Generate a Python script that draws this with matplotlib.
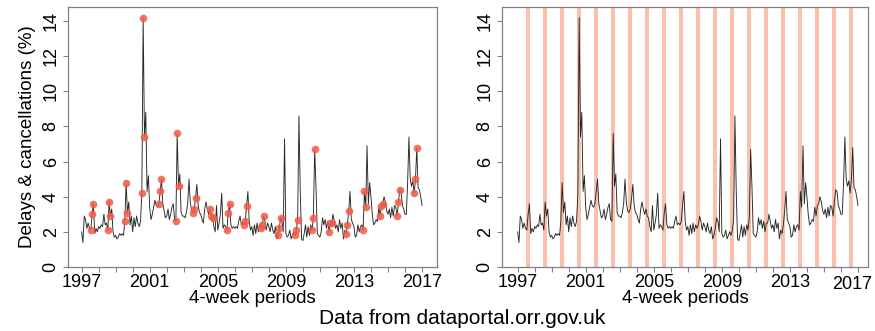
import numpy as np
import matplotlib
matplotlib.use("Agg")
import matplotlib.pyplot as plt

plt.rcParams['font.family'] = ['Liberation Sans', 'DejaVu Sans']

# Delays & cancellations (%) per 4-week period, 13 periods a year from 1997
start_year = 1997
periods_per_year = 13
autumn_periods = [7, 8, 9]

delays = [
    2.0, 1.4, 2.9, 2.7, 2.2, 2.5, 2.2, 2.1, 3.0, 3.6, 1.9, 2.2, 2.0,   # 1997
    2.3, 2.2, 2.4, 2.3, 3.0, 2.4, 2.5, 2.1, 3.7, 2.9, 3.3, 2.0, 1.7,   # 1998
    1.8, 1.6, 1.7, 1.9, 1.8, 1.9, 1.8, 2.6, 4.8, 3.1, 3.7, 2.4, 2.9,   # 1999
    2.0, 2.8, 2.3, 2.9, 2.5, 2.3, 2.6, 4.2, 14.2, 7.4, 8.8, 4.3, 5.2,  # 2000
    3.4, 2.7, 3.0, 3.4, 3.8, 3.5, 3.4, 3.6, 4.3, 5.0, 3.6, 3.2, 2.8,   # 2001
    2.9, 3.3, 2.7, 3.0, 3.4, 3.6, 2.7, 2.6, 7.6, 4.6, 5.3, 3.1, 2.9,   # 2002
    2.9, 2.8, 3.1, 3.6, 5.0, 3.7, 3.2, 3.1, 3.3, 3.9, 4.7, 3.5, 3.1,   # 2003
    3.0, 2.7, 2.5, 3.3, 3.7, 3.3, 3.0, 3.3, 2.9, 2.8, 2.3, 2.0, 3.5,   # 2004
    2.1, 2.5, 3.0, 4.2, 2.2, 2.4, 2.3, 2.1, 3.1, 3.6, 2.4, 2.2, 2.3,   # 2005
    2.2, 2.3, 2.2, 2.6, 2.9, 2.4, 2.5, 2.4, 2.6, 3.5, 4.3, 2.6, 2.1,   # 2006
    2.3, 1.8, 2.4, 1.9, 2.5, 2.0, 2.4, 2.2, 2.4, 2.9, 2.6, 2.1, 2.5,   # 2007
    2.3, 2.0, 2.5, 2.1, 1.9, 2.3, 1.6, 1.8, 2.2, 2.8, 2.6, 2.0, 7.3,   # 2008
    1.9, 1.7, 1.8, 2.1, 1.6, 1.8, 2.0, 1.8, 2.1, 2.7, 8.6, 4.3, 1.6,   # 2009
    1.5, 1.9, 2.4, 1.7, 2.3, 1.8, 2.4, 2.1, 2.8, 6.7, 4.6, 1.9, 1.8,   # 2010
    1.7, 2.0, 2.8, 2.4, 2.7, 2.2, 2.6, 2.0, 2.5, 2.5, 3.0, 2.6, 2.2,   # 2011
    2.4, 2.0, 2.7, 2.2, 2.5, 1.6, 2.1, 1.9, 2.4, 3.2, 4.3, 2.7, 2.5,   # 2012
    2.3, 1.7, 1.8, 2.4, 2.0, 2.3, 2.4, 2.1, 4.3, 3.4, 6.9, 3.6, 4.8,   # 2013
    4.0, 3.0, 2.4, 2.5, 2.7, 2.6, 3.4, 2.9, 3.5, 3.6, 4.0, 3.7, 3.2,   # 2014
    3.0, 3.3, 2.8, 3.4, 2.9, 3.5, 3.4, 2.9, 3.7, 4.4, 4.3, 3.5, 3.3,   # 2015
    3.0, 3.0, 4.8, 7.4, 5.0, 4.6, 4.9, 4.2, 5.0, 6.8, 4.5, 4.4, 4.0,   # 2016
    3.5,                                                                # 2017
]

year_ticks = np.arange(1997, 2018)
year_labels = [1997, 2001, 2005, 2009, 2013, 2017]

delays = np.array(delays)
t = start_year + np.arange(len(delays)) / periods_per_year
period = np.arange(len(delays)) % periods_per_year
autumn = np.isin(period, autumn_periods)

line_col = '#262626'
dot_col = '#f05a46'
band_col = '#fbc0ad'
frame_col = '#808080'

fig = plt.figure(figsize=(8.75, 3.31), dpi=100)
ax1 = fig.add_axes([68 / 875, 64 / 331, 369 / 875, 260 / 331])
ax2 = fig.add_axes([502 / 875, 64 / 331, 366 / 875, 260 / 331])


def style(ax, xlim, labels):
    ax.set_xlim(*xlim)
    ax.set_ylim(0, 14.8)
    for s in ax.spines.values():
        s.set_color(frame_col)
        s.set_linewidth(0.9)
    ax.set_xticks(year_ticks)
    ax.set_xticklabels([str(y) if y in labels else '' for y in year_ticks])
    ax.set_yticks(np.arange(0, 15, 2))
    ax.set_yticklabels([str(v) for v in range(0, 15, 2)], rotation=90, va='center')
    ax.tick_params(axis='both', colors=frame_col, labelcolor='black',
                   labelsize=13, length=3.5, width=0.8)
    ax.tick_params(axis='x', pad=1.5)
    ax.tick_params(axis='y', pad=2.5)
    ax.set_xlabel('4-week periods', fontsize=13.5, labelpad=-1)


# left: series with autumn periods marked
ax1.plot(t, delays, color=line_col, lw=0.65, zorder=2)
ax1.plot(t[autumn], delays[autumn], 'o', color=dot_col, ms=5.5, alpha=0.85,
         mec='none', zorder=3)
style(ax1, (1996.2, 2017.88), year_labels)
ax1.set_ylabel('Delays & cancellations (%)', fontsize=13.5, labelpad=5)

# right: series with autumn bands shaded
for yr in range(start_year, 2017):
    ax2.axvspan(yr + (autumn_periods[0] - 0.8) / periods_per_year,
                yr + (autumn_periods[-1] + 0.2) / periods_per_year,
                color=band_col, lw=0, zorder=1)
ax2.plot(t, delays, color=line_col, lw=0.65, zorder=2)
style(ax2, (1996.08, 2017.59), year_labels[:-1])
# last year label nudged left so it stays inside the figure edge
ax2.annotate(str(year_labels[-1]), xy=(year_labels[-1], 0),
             xycoords=('data', 'axes fraction'), xytext=(-4, -6.5),
             textcoords='offset points', ha='center', va='top', fontsize=13)

fig.text(0.5286, 0.039, 'Data from dataportal.orr.gov.uk', ha='center',
         va='center', fontsize=15)

fig.savefig('out.png', dpi=100)
